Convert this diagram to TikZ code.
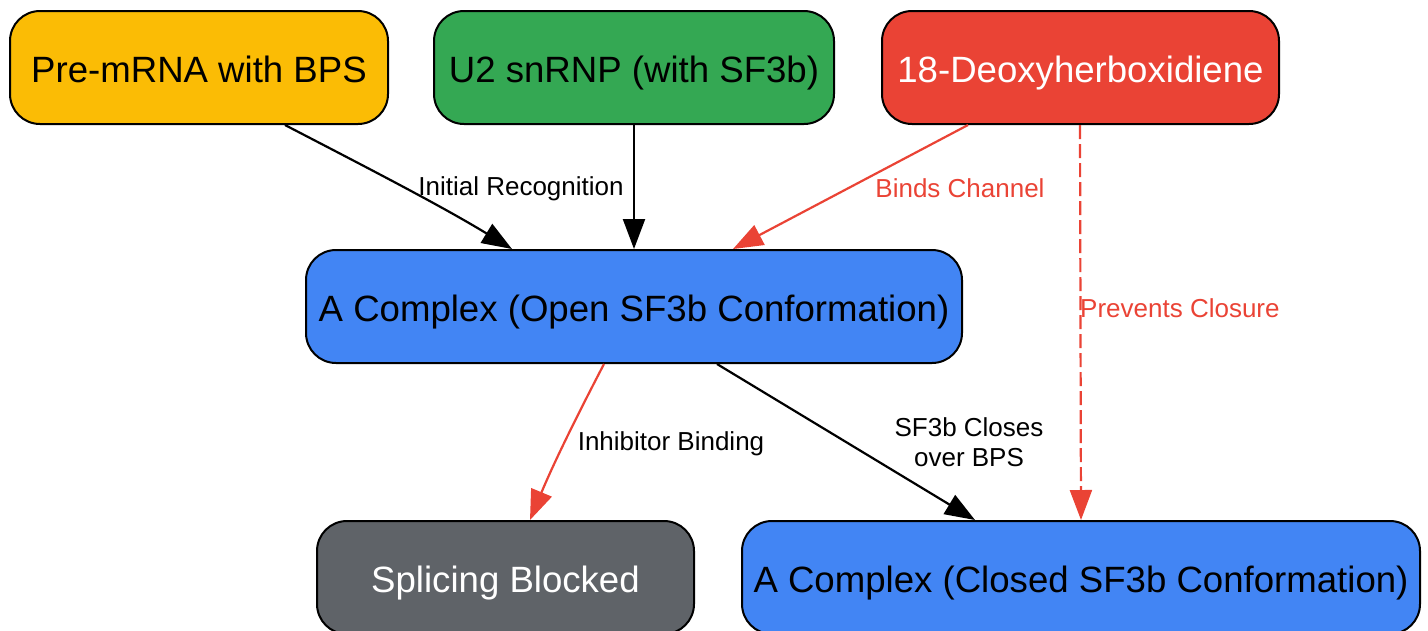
\documentclass[tikz,border=0pt]{standalone}
\usepackage{fontspec}
\setmainfont{Liberation Sans}
\usetikzlibrary{arrows.meta}
\definecolor{gyellow}{HTML}{FBBC05}
\definecolor{ggreen}{HTML}{34A853}
\definecolor{gred}{HTML}{EA4335}
\definecolor{gblue}{HTML}{4285F4}
\definecolor{ggrey}{HTML}{5F6368}
\begin{document}
\begin{tikzpicture}[x=1pt,y=-1pt,
  box/.style={draw=black, line width=2pt, rounded corners=30pt, minimum height=113pt, inner sep=0pt, text height=29pt, text depth=0pt, font=\fontsize{36.6}{40}\selectfont},
  arr/.style={-{Triangle[length=30pt,width=22pt]}, line width=2.2pt},
  lbl/.style={font=\fontsize{26}{30}\selectfont, inner sep=0pt, align=center}
]
\useasboundingbox (0,0) rectangle (1428,630);
\node[box, fill=gyellow, minimum width=378pt] (pre) at (199,67.5) {Pre-mRNA with BPS};
\node[box, fill=ggreen, minimum width=400pt] (u2) at (634,67.5) {U2 snRNP (with SF3b)};
\node[box, fill=gred, text=white, minimum width=397pt] (deoxy) at (1080.5,67.5) {18-Deoxyherboxidiene};
\node[box, fill=gblue, minimum width=656pt] (aopen) at (634,306.5) {A Complex (Open SF3b Conformation)};
\node[box, fill=ggrey, text=white, minimum width=377pt] (blocked) at (505.5,577.5) {Splicing Blocked};
\node[box, fill=gblue, minimum width=678pt] (aclosed) at (1081,577.5) {A Complex (Closed SF3b Conformation)};

\draw[arr] ([xshift=86pt]pre.south) .. controls (360,164) and (440,205) .. ([xshift=-122pt]aopen.north);
\draw[arr] (u2.south) -- (aopen.north);
\draw[arr, gred] ([xshift=-112.5pt]deoxy.south) -- ([xshift=99pt]aopen.north);
\draw[arr, gred, dash pattern=on 14pt off 5pt] ([xshift=-0.5pt]deoxy.south) -- (aclosed.north);
\draw[arr, gred] ([xshift=-30pt]aopen.south) .. controls (580,410) and (555,460) .. ([xshift=24.5pt]blocked.north);
\draw[arr] ([xshift=83pt]aopen.south) -- ([xshift=-106pt]aclosed.north);

\node[lbl] (l1) at (521,189) {Initial Recognition};
\node[lbl, text=gred] (l2) at (960,188) {Binds Channel};
\node[lbl, text=gred, anchor=west] (l3) at (1080,308) {Prevents Closure};
\node[lbl] (l4) at (671,444) {Inhibitor Binding};
\node[lbl] (l5) at (969,442) {SF3b Closes\\over BPS};
\end{tikzpicture}
\end{document}
